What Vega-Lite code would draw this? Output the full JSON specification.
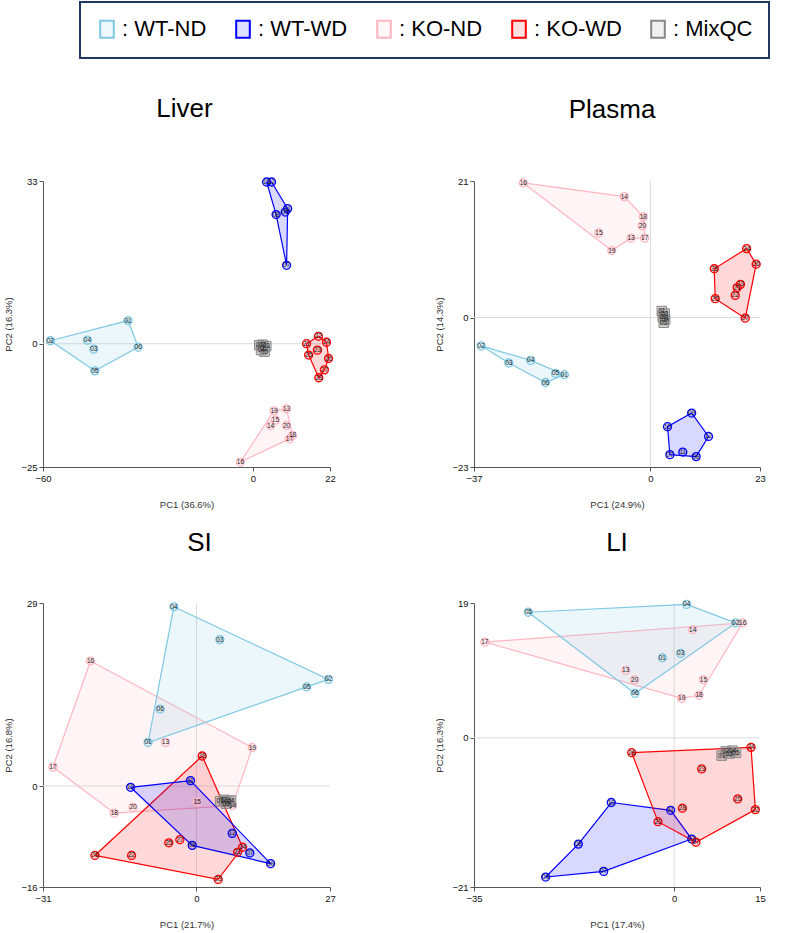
{
 "$schema": "https://vega.github.io/schema/vega-lite/v6.json",
 "background": "white",
 "padding": {"left": 3, "top": 1, "right": 5, "bottom": 5},
 "columns": 2,
 "spacing": {"row": 136, "column": 144},
 "bounds": "flush",
 "datasets": {
  "pts": [
   {"p":"Liver","g":"WT-ND","l":"01","x":-35.7,"y":4.7},
   {"p":"Liver","g":"WT-ND","l":"02","x":-57.9,"y":0.6},
   {"p":"Liver","g":"WT-ND","l":"03","x":-45.5,"y":-1.1},
   {"p":"Liver","g":"WT-ND","l":"04","x":-47.3,"y":0.7},
   {"p":"Liver","g":"WT-ND","l":"05","x":-45.2,"y":-5.5},
   {"p":"Liver","g":"WT-ND","l":"06","x":-32.8,"y":-0.7},
   {"p":"Liver","g":"WT-WD","l":"07","x":9.6,"y":15.9},
   {"p":"Liver","g":"WT-WD","l":"08","x":6.6,"y":26.2},
   {"p":"Liver","g":"WT-WD","l":"09","x":9.2,"y":26.7},
   {"p":"Liver","g":"WT-WD","l":"10","x":3.9,"y":32.8},
   {"p":"Liver","g":"WT-WD","l":"11","x":9.9,"y":27.4},
   {"p":"Liver","g":"WT-WD","l":"12","x":5.3,"y":32.8},
   {"p":"Liver","g":"KO-ND","l":"13","x":9.6,"y":-13.2},
   {"p":"Liver","g":"KO-ND","l":"14","x":5.0,"y":-16.6},
   {"p":"Liver","g":"KO-ND","l":"15","x":6.4,"y":-15.5},
   {"p":"Liver","g":"KO-ND","l":"16","x":-3.6,"y":-24.0},
   {"p":"Liver","g":"KO-ND","l":"17","x":10.4,"y":-19.3},
   {"p":"Liver","g":"KO-ND","l":"18","x":11.3,"y":-18.6},
   {"p":"Liver","g":"KO-ND","l":"19","x":6.0,"y":-13.6},
   {"p":"Liver","g":"KO-ND","l":"20","x":9.6,"y":-16.6},
   {"p":"Liver","g":"KO-WD","l":"21","x":15.3,"y":0.0},
   {"p":"Liver","g":"KO-WD","l":"22","x":18.7,"y":1.5},
   {"p":"Liver","g":"KO-WD","l":"23","x":18.4,"y":-1.3},
   {"p":"Liver","g":"KO-WD","l":"24","x":21.0,"y":0.3},
   {"p":"Liver","g":"KO-WD","l":"25","x":15.9,"y":-2.3},
   {"p":"Liver","g":"KO-WD","l":"26","x":21.6,"y":-3.0},
   {"p":"Liver","g":"KO-WD","l":"27","x":20.4,"y":-5.3},
   {"p":"Liver","g":"KO-WD","l":"28","x":18.8,"y":-6.9},
   {"p":"Liver","g":"MixQC","l":"01","x":1.8,"y":-0.3},
   {"p":"Liver","g":"MixQC","l":"02","x":2.8,"y":-0.2},
   {"p":"Liver","g":"MixQC","l":"03","x":3.8,"y":-0.5},
   {"p":"Liver","g":"MixQC","l":"04","x":2.3,"y":-1.3},
   {"p":"Liver","g":"MixQC","l":"05","x":3.3,"y":-1.6},

   {"p":"Plasma","g":"WT-ND","l":"01","x":-18.05,"y":-8.8},
   {"p":"Plasma","g":"WT-ND","l":"02","x":-35.5,"y":-4.36},
   {"p":"Plasma","g":"WT-ND","l":"03","x":-29.7,"y":-7.0},
   {"p":"Plasma","g":"WT-ND","l":"04","x":-25.1,"y":-6.6},
   {"p":"Plasma","g":"WT-ND","l":"05","x":-19.9,"y":-8.6},
   {"p":"Plasma","g":"WT-ND","l":"06","x":-22.0,"y":-10.0},
   {"p":"Plasma","g":"WT-WD","l":"07","x":4.1,"y":-21.1},
   {"p":"Plasma","g":"WT-WD","l":"08","x":9.6,"y":-21.4},
   {"p":"Plasma","g":"WT-WD","l":"09","x":8.66,"y":-14.7},
   {"p":"Plasma","g":"WT-WD","l":"10","x":3.6,"y":-16.8},
   {"p":"Plasma","g":"WT-WD","l":"11","x":6.8,"y":-20.7},
   {"p":"Plasma","g":"WT-WD","l":"12","x":12.2,"y":-18.3},
   {"p":"Plasma","g":"KO-ND","l":"13","x":-4.06,"y":12.2},
   {"p":"Plasma","g":"KO-ND","l":"14","x":-5.46,"y":18.6},
   {"p":"Plasma","g":"KO-ND","l":"15","x":-10.8,"y":13.0},
   {"p":"Plasma","g":"KO-ND","l":"16","x":-26.65,"y":20.7},
   {"p":"Plasma","g":"KO-ND","l":"17","x":-1.2,"y":12.2},
   {"p":"Plasma","g":"KO-ND","l":"18","x":-1.48,"y":15.5},
   {"p":"Plasma","g":"KO-ND","l":"19","x":-8.1,"y":10.3},
   {"p":"Plasma","g":"KO-ND","l":"20","x":-1.69,"y":14.1},
   {"p":"Plasma","g":"KO-WD","l":"21","x":18.2,"y":4.6},
   {"p":"Plasma","g":"KO-WD","l":"22","x":17.8,"y":3.4},
   {"p":"Plasma","g":"KO-WD","l":"23","x":18.9,"y":5.1},
   {"p":"Plasma","g":"KO-WD","l":"24","x":20.2,"y":10.6},
   {"p":"Plasma","g":"KO-WD","l":"25","x":13.6,"y":2.9},
   {"p":"Plasma","g":"KO-WD","l":"26","x":22.2,"y":8.2},
   {"p":"Plasma","g":"KO-WD","l":"27","x":19.9,"y":-0.1},
   {"p":"Plasma","g":"KO-WD","l":"28","x":13.4,"y":7.5},
   {"p":"Plasma","g":"MixQC","l":"01","x":2.4,"y":1.0},
   {"p":"Plasma","g":"MixQC","l":"02","x":3.0,"y":0.6},
   {"p":"Plasma","g":"MixQC","l":"03","x":2.6,"y":0.1},
   {"p":"Plasma","g":"MixQC","l":"04","x":3.1,"y":-0.3},
   {"p":"Plasma","g":"MixQC","l":"05","x":2.8,"y":-0.8},

   {"p":"SI","g":"WT-ND","l":"01","x":-9.76,"y":6.9},
   {"p":"SI","g":"WT-ND","l":"02","x":26.7,"y":16.9},
   {"p":"SI","g":"WT-ND","l":"03","x":4.74,"y":23.2},
   {"p":"SI","g":"WT-ND","l":"04","x":-4.56,"y":28.4},
   {"p":"SI","g":"WT-ND","l":"05","x":22.3,"y":15.7},
   {"p":"SI","g":"WT-ND","l":"06","x":-7.33,"y":12.2},
   {"p":"SI","g":"WT-WD","l":"07","x":10.8,"y":-10.6},
   {"p":"SI","g":"WT-WD","l":"08","x":-0.85,"y":-9.4},
   {"p":"SI","g":"WT-WD","l":"09","x":15.0,"y":-12.3},
   {"p":"SI","g":"WT-WD","l":"10","x":-13.3,"y":-0.2},
   {"p":"SI","g":"WT-WD","l":"11","x":-1.19,"y":0.86},
   {"p":"SI","g":"WT-WD","l":"12","x":7.24,"y":-7.5},
   {"p":"SI","g":"KO-ND","l":"13","x":-6.25,"y":6.9},
   {"p":"SI","g":"KO-ND","l":"14","x":7.3,"y":-3.1},
   {"p":"SI","g":"KO-ND","l":"15","x":0.16,"y":-2.5},
   {"p":"SI","g":"KO-ND","l":"16","x":-21.4,"y":19.8},
   {"p":"SI","g":"KO-ND","l":"17","x":-29.0,"y":3.0},
   {"p":"SI","g":"KO-ND","l":"18","x":-16.6,"y":-4.3},
   {"p":"SI","g":"KO-ND","l":"19","x":11.3,"y":6.1},
   {"p":"SI","g":"KO-ND","l":"20","x":-12.8,"y":-3.4},
   {"p":"SI","g":"KO-WD","l":"21","x":8.32,"y":-10.5},
   {"p":"SI","g":"KO-WD","l":"22","x":-13.1,"y":-11.0},
   {"p":"SI","g":"KO-WD","l":"23","x":4.4,"y":-14.8},
   {"p":"SI","g":"KO-WD","l":"24","x":9.33,"y":-9.7},
   {"p":"SI","g":"KO-WD","l":"25","x":-5.58,"y":-9.0},
   {"p":"SI","g":"KO-WD","l":"26","x":-20.5,"y":-11.0},
   {"p":"SI","g":"KO-WD","l":"27","x":-3.35,"y":-8.5},
   {"p":"SI","g":"KO-WD","l":"28","x":1.17,"y":4.76},
   {"p":"SI","g":"MixQC","l":"01","x":4.8,"y":-2.4},
   {"p":"SI","g":"MixQC","l":"02","x":5.6,"y":-2.2},
   {"p":"SI","g":"MixQC","l":"03","x":6.3,"y":-2.5},
   {"p":"SI","g":"MixQC","l":"04","x":7.0,"y":-2.3},
   {"p":"SI","g":"MixQC","l":"05","x":6.0,"y":-2.8},

   {"p":"LI","g":"WT-ND","l":"01","x":-2.07,"y":11.3},
   {"p":"LI","g":"WT-ND","l":"02","x":10.75,"y":16.2},
   {"p":"LI","g":"WT-ND","l":"03","x":1.13,"y":11.9},
   {"p":"LI","g":"WT-ND","l":"04","x":2.18,"y":18.8},
   {"p":"LI","g":"WT-ND","l":"05","x":-25.5,"y":17.7},
   {"p":"LI","g":"WT-ND","l":"06","x":-6.85,"y":6.26},
   {"p":"LI","g":"WT-WD","l":"07","x":-12.33,"y":-18.8},
   {"p":"LI","g":"WT-WD","l":"08","x":-16.76,"y":-14.96},
   {"p":"LI","g":"WT-WD","l":"09","x":-22.47,"y":-19.6},
   {"p":"LI","g":"WT-WD","l":"10","x":-11.0,"y":-9.1},
   {"p":"LI","g":"WT-WD","l":"11","x":-0.61,"y":-10.2},
   {"p":"LI","g":"WT-WD","l":"12","x":3.06,"y":-14.25},
   {"p":"LI","g":"KO-ND","l":"13","x":-8.48,"y":9.5},
   {"p":"LI","g":"KO-ND","l":"14","x":3.23,"y":15.25},
   {"p":"LI","g":"KO-ND","l":"15","x":5.1,"y":8.2},
   {"p":"LI","g":"KO-ND","l":"16","x":11.97,"y":16.2},
   {"p":"LI","g":"KO-ND","l":"17","x":-33.1,"y":13.5},
   {"p":"LI","g":"KO-ND","l":"18","x":4.34,"y":6.0},
   {"p":"LI","g":"KO-ND","l":"19","x":1.3,"y":5.56},
   {"p":"LI","g":"KO-ND","l":"20","x":-6.9,"y":8.2},
   {"p":"LI","g":"KO-WD","l":"21","x":-2.83,"y":-11.8},
   {"p":"LI","g":"KO-WD","l":"22","x":14.19,"y":-10.1},
   {"p":"LI","g":"KO-WD","l":"23","x":4.8,"y":-4.37},
   {"p":"LI","g":"KO-WD","l":"24","x":13.43,"y":-1.33},
   {"p":"LI","g":"KO-WD","l":"25","x":11.1,"y":-8.6},
   {"p":"LI","g":"KO-WD","l":"26","x":-7.43,"y":-2.08},
   {"p":"LI","g":"KO-WD","l":"27","x":3.8,"y":-14.7},
   {"p":"LI","g":"KO-WD","l":"28","x":1.43,"y":-9.9},
   {"p":"LI","g":"MixQC","l":"01","x":8.3,"y":-2.5},
   {"p":"LI","g":"MixQC","l":"02","x":9.0,"y":-1.9},
   {"p":"LI","g":"MixQC","l":"03","x":9.6,"y":-2.2},
   {"p":"LI","g":"MixQC","l":"04","x":10.2,"y":-1.8},
   {"p":"LI","g":"MixQC","l":"05","x":10.8,"y":-2.1}
  ],
  "hull": [
   {"p":"Liver","g":"WT-ND","o":1,"x":-57.9,"y":0.6},
   {"p":"Liver","g":"WT-ND","o":2,"x":-35.7,"y":4.7},
   {"p":"Liver","g":"WT-ND","o":3,"x":-32.8,"y":-0.7},
   {"p":"Liver","g":"WT-ND","o":4,"x":-45.2,"y":-5.5},
   {"p":"Liver","g":"WT-ND","o":5,"x":-57.9,"y":0.6},
   {"p":"Liver","g":"WT-WD","o":1,"x":3.9,"y":32.8},
   {"p":"Liver","g":"WT-WD","o":2,"x":5.3,"y":32.8},
   {"p":"Liver","g":"WT-WD","o":3,"x":9.9,"y":27.4},
   {"p":"Liver","g":"WT-WD","o":4,"x":9.6,"y":15.9},
   {"p":"Liver","g":"WT-WD","o":5,"x":6.6,"y":26.2},
   {"p":"Liver","g":"WT-WD","o":6,"x":3.9,"y":32.8},
   {"p":"Liver","g":"KO-ND","o":1,"x":-3.6,"y":-24.0},
   {"p":"Liver","g":"KO-ND","o":2,"x":6.0,"y":-13.6},
   {"p":"Liver","g":"KO-ND","o":3,"x":9.6,"y":-13.2},
   {"p":"Liver","g":"KO-ND","o":4,"x":11.3,"y":-18.6},
   {"p":"Liver","g":"KO-ND","o":5,"x":10.4,"y":-19.3},
   {"p":"Liver","g":"KO-ND","o":6,"x":-3.6,"y":-24.0},
   {"p":"Liver","g":"KO-WD","o":1,"x":15.3,"y":0.0},
   {"p":"Liver","g":"KO-WD","o":2,"x":18.7,"y":1.5},
   {"p":"Liver","g":"KO-WD","o":3,"x":21.0,"y":0.3},
   {"p":"Liver","g":"KO-WD","o":4,"x":21.6,"y":-3.0},
   {"p":"Liver","g":"KO-WD","o":5,"x":20.4,"y":-5.3},
   {"p":"Liver","g":"KO-WD","o":6,"x":18.8,"y":-6.9},
   {"p":"Liver","g":"KO-WD","o":7,"x":15.9,"y":-2.3},
   {"p":"Liver","g":"KO-WD","o":8,"x":15.3,"y":0.0},

   {"p":"Plasma","g":"KO-ND","o":1,"x":-26.65,"y":20.7},
   {"p":"Plasma","g":"KO-ND","o":2,"x":-5.46,"y":18.6},
   {"p":"Plasma","g":"KO-ND","o":3,"x":-1.48,"y":15.5},
   {"p":"Plasma","g":"KO-ND","o":4,"x":-1.2,"y":12.2},
   {"p":"Plasma","g":"KO-ND","o":5,"x":-4.06,"y":12.2},
   {"p":"Plasma","g":"KO-ND","o":6,"x":-8.1,"y":10.3},
   {"p":"Plasma","g":"KO-ND","o":7,"x":-26.65,"y":20.7},
   {"p":"Plasma","g":"KO-WD","o":1,"x":20.2,"y":10.6},
   {"p":"Plasma","g":"KO-WD","o":2,"x":22.2,"y":8.2},
   {"p":"Plasma","g":"KO-WD","o":3,"x":19.9,"y":-0.1},
   {"p":"Plasma","g":"KO-WD","o":4,"x":13.6,"y":2.9},
   {"p":"Plasma","g":"KO-WD","o":5,"x":13.4,"y":7.5},
   {"p":"Plasma","g":"KO-WD","o":6,"x":20.2,"y":10.6},
   {"p":"Plasma","g":"WT-ND","o":1,"x":-35.5,"y":-4.36},
   {"p":"Plasma","g":"WT-ND","o":2,"x":-25.1,"y":-6.6},
   {"p":"Plasma","g":"WT-ND","o":3,"x":-18.05,"y":-8.8},
   {"p":"Plasma","g":"WT-ND","o":4,"x":-22.0,"y":-10.0},
   {"p":"Plasma","g":"WT-ND","o":5,"x":-29.7,"y":-7.0},
   {"p":"Plasma","g":"WT-ND","o":6,"x":-35.5,"y":-4.36},
   {"p":"Plasma","g":"WT-WD","o":1,"x":8.66,"y":-14.7},
   {"p":"Plasma","g":"WT-WD","o":2,"x":12.2,"y":-18.3},
   {"p":"Plasma","g":"WT-WD","o":3,"x":9.6,"y":-21.4},
   {"p":"Plasma","g":"WT-WD","o":4,"x":4.1,"y":-21.1},
   {"p":"Plasma","g":"WT-WD","o":5,"x":3.6,"y":-16.8},
   {"p":"Plasma","g":"WT-WD","o":6,"x":8.66,"y":-14.7},

   {"p":"SI","g":"KO-ND","o":1,"x":-21.4,"y":19.8},
   {"p":"SI","g":"KO-ND","o":2,"x":11.3,"y":6.1},
   {"p":"SI","g":"KO-ND","o":3,"x":7.3,"y":-3.1},
   {"p":"SI","g":"KO-ND","o":4,"x":-16.6,"y":-4.3},
   {"p":"SI","g":"KO-ND","o":5,"x":-29.0,"y":3.0},
   {"p":"SI","g":"KO-ND","o":6,"x":-21.4,"y":19.8},
   {"p":"SI","g":"WT-ND","o":1,"x":-4.56,"y":28.4},
   {"p":"SI","g":"WT-ND","o":2,"x":26.7,"y":16.9},
   {"p":"SI","g":"WT-ND","o":3,"x":22.3,"y":15.7},
   {"p":"SI","g":"WT-ND","o":4,"x":-9.76,"y":6.9},
   {"p":"SI","g":"WT-ND","o":5,"x":-4.56,"y":28.4},
   {"p":"SI","g":"KO-WD","o":1,"x":1.17,"y":4.76},
   {"p":"SI","g":"KO-WD","o":2,"x":9.33,"y":-9.7},
   {"p":"SI","g":"KO-WD","o":3,"x":4.4,"y":-14.8},
   {"p":"SI","g":"KO-WD","o":4,"x":-20.5,"y":-11.0},
   {"p":"SI","g":"KO-WD","o":5,"x":1.17,"y":4.76},
   {"p":"SI","g":"WT-WD","o":1,"x":-13.3,"y":-0.2},
   {"p":"SI","g":"WT-WD","o":2,"x":-1.19,"y":0.86},
   {"p":"SI","g":"WT-WD","o":3,"x":15.0,"y":-12.3},
   {"p":"SI","g":"WT-WD","o":4,"x":-0.85,"y":-9.4},
   {"p":"SI","g":"WT-WD","o":5,"x":-13.3,"y":-0.2},

   {"p":"LI","g":"KO-ND","o":1,"x":-33.1,"y":13.5},
   {"p":"LI","g":"KO-ND","o":2,"x":11.97,"y":16.2},
   {"p":"LI","g":"KO-ND","o":3,"x":4.34,"y":6.0},
   {"p":"LI","g":"KO-ND","o":4,"x":1.3,"y":5.56},
   {"p":"LI","g":"KO-ND","o":5,"x":-33.1,"y":13.5},
   {"p":"LI","g":"WT-ND","o":1,"x":-25.5,"y":17.7},
   {"p":"LI","g":"WT-ND","o":2,"x":2.18,"y":18.8},
   {"p":"LI","g":"WT-ND","o":3,"x":10.75,"y":16.2},
   {"p":"LI","g":"WT-ND","o":4,"x":-6.85,"y":6.26},
   {"p":"LI","g":"WT-ND","o":5,"x":-25.5,"y":17.7},
   {"p":"LI","g":"WT-WD","o":1,"x":-11.0,"y":-9.1},
   {"p":"LI","g":"WT-WD","o":2,"x":-0.61,"y":-10.2},
   {"p":"LI","g":"WT-WD","o":3,"x":3.06,"y":-14.25},
   {"p":"LI","g":"WT-WD","o":4,"x":-12.33,"y":-18.8},
   {"p":"LI","g":"WT-WD","o":5,"x":-22.47,"y":-19.6},
   {"p":"LI","g":"WT-WD","o":6,"x":-16.76,"y":-14.96},
   {"p":"LI","g":"WT-WD","o":7,"x":-11.0,"y":-9.1},
   {"p":"LI","g":"KO-WD","o":1,"x":-7.43,"y":-2.08},
   {"p":"LI","g":"KO-WD","o":2,"x":13.43,"y":-1.33},
   {"p":"LI","g":"KO-WD","o":3,"x":14.19,"y":-10.1},
   {"p":"LI","g":"KO-WD","o":4,"x":3.8,"y":-14.7},
   {"p":"LI","g":"KO-WD","o":5,"x":-2.83,"y":-11.8},
   {"p":"LI","g":"KO-WD","o":6,"x":-7.43,"y":-2.08}
  ]
 },
 "concat": [
  {
   "width": 287, "height": 286,
   "title": {"text": "Liver", "offset": 53, "dx": -2},
   "layer": [
    {"data": {"values": [{"x": 0, "y": 0}]}, "mark": {"type": "rule", "color": "#dcdcdc", "strokeWidth": 1},
     "encoding": {"y": {"field": "y", "type": "quantitative", "scale": {"domain": [-25, 33], "nice": false, "zero": false}, "axis": {"values": [-25, 0, 33], "title": "PC2 (16.3%)"}}}},
    {"data": {"name": "hull"}, "transform": [{"filter": "datum.p == 'Liver'"}],
     "mark": {"type": "line", "strokeWidth": 1.2, "fillOpacity": 0.15},
     "encoding": {
      "x": {"field": "x", "type": "quantitative", "scale": {"domain": [-60, 22], "nice": false, "zero": false}, "axis": {"values": [-60, 0, 22], "title": "PC1 (36.6%)"}},
      "y": {"field": "y", "type": "quantitative", "scale": {"domain": [-25, 33], "nice": false, "zero": false}, "axis": {"values": [-25, 0, 33], "title": "PC2 (16.3%)"}},
      "order": {"field": "o", "type": "quantitative"},
      "stroke": {"field": "g", "type": "nominal", "scale": {"domain": ["WT-ND", "WT-WD", "KO-ND", "KO-WD", "MixQC"], "range": ["#7ec8e3", "#0000ff", "#ffb6c1", "#ff0000", "#888888"]}, "legend": {"title": null, "symbolType": "M-0.8,-1L0.8,-1L0.8,1L-0.8,1Z", "labelExpr": "': ' + datum.label", "encode": {"symbols": {"update": {"fillOpacity": {"value": 0.12}, "strokeOpacity": {"value": 1}, "opacity": {"value": 1}}}, "legend": {"update": {"strokeWidth": {"value": 2}}}}}},
      "fill": {"field": "g", "type": "nominal", "scale": {"domain": ["WT-ND", "WT-WD", "KO-ND", "KO-WD", "MixQC"], "range": ["#7ec8e3", "#0000ff", "#ffb6c1", "#ff0000", "#888888"]}, "legend": {"title": null, "symbolType": "M-0.8,-1L0.8,-1L0.8,1L-0.8,1Z", "labelExpr": "': ' + datum.label", "encode": {"symbols": {"update": {"fillOpacity": {"value": 0.12}, "strokeOpacity": {"value": 1}, "opacity": {"value": 1}}}, "legend": {"update": {"strokeWidth": {"value": 2}}}}}}
     }},
    {"data": {"name": "pts"}, "transform": [{"filter": "datum.p == 'Liver' && datum.g != 'MixQC'"}],
     "mark": {"type": "point", "shape": "circle", "size": 64, "strokeWidth": 1.3, "fillOpacity": 0.2, "opacity": 1},
     "encoding": {
      "x": {"field": "x", "type": "quantitative", "scale": {"domain": [-60, 22], "nice": false, "zero": false}, "axis": {"values": [-60, 0, 22], "title": "PC1 (36.6%)"}},
      "y": {"field": "y", "type": "quantitative", "scale": {"domain": [-25, 33], "nice": false, "zero": false}, "axis": {"values": [-25, 0, 33], "title": "PC2 (16.3%)"}},
      "stroke": {"field": "g", "type": "nominal", "scale": {"domain": ["WT-ND", "WT-WD", "KO-ND", "KO-WD", "MixQC"], "range": ["#7ec8e3", "#0000ff", "#ffb6c1", "#ff0000", "#888888"]}, "legend": {"title": null, "symbolType": "M-0.8,-1L0.8,-1L0.8,1L-0.8,1Z", "labelExpr": "': ' + datum.label", "encode": {"symbols": {"update": {"fillOpacity": {"value": 0.12}, "strokeOpacity": {"value": 1}, "opacity": {"value": 1}}}, "legend": {"update": {"strokeWidth": {"value": 2}}}}}},
      "fill": {"field": "g", "type": "nominal", "scale": {"domain": ["WT-ND", "WT-WD", "KO-ND", "KO-WD", "MixQC"], "range": ["#7ec8e3", "#0000ff", "#ffb6c1", "#ff0000", "#888888"]}, "legend": {"title": null, "symbolType": "M-0.8,-1L0.8,-1L0.8,1L-0.8,1Z", "labelExpr": "': ' + datum.label", "encode": {"symbols": {"update": {"fillOpacity": {"value": 0.12}, "strokeOpacity": {"value": 1}, "opacity": {"value": 1}}}, "legend": {"update": {"strokeWidth": {"value": 2}}}}}}
     }},
    {"data": {"name": "pts"}, "transform": [{"filter": "datum.p == 'Liver' && datum.g == 'MixQC'"}],
     "mark": {"type": "point", "shape": "square", "size": 90, "strokeWidth": 1, "fillOpacity": 0.4, "opacity": 1},
     "encoding": {
      "x": {"field": "x", "type": "quantitative", "scale": {"domain": [-60, 22], "nice": false, "zero": false}, "axis": {"values": [-60, 0, 22], "title": "PC1 (36.6%)"}},
      "y": {"field": "y", "type": "quantitative", "scale": {"domain": [-25, 33], "nice": false, "zero": false}, "axis": {"values": [-25, 0, 33], "title": "PC2 (16.3%)"}},
      "stroke": {"field": "g", "type": "nominal", "scale": {"domain": ["WT-ND", "WT-WD", "KO-ND", "KO-WD", "MixQC"], "range": ["#7ec8e3", "#0000ff", "#ffb6c1", "#ff0000", "#888888"]}, "legend": {"title": null, "symbolType": "M-0.8,-1L0.8,-1L0.8,1L-0.8,1Z", "labelExpr": "': ' + datum.label", "encode": {"symbols": {"update": {"fillOpacity": {"value": 0.12}, "strokeOpacity": {"value": 1}, "opacity": {"value": 1}}}, "legend": {"update": {"strokeWidth": {"value": 2}}}}}},
      "fill": {"field": "g", "type": "nominal", "scale": {"domain": ["WT-ND", "WT-WD", "KO-ND", "KO-WD", "MixQC"], "range": ["#7ec8e3", "#0000ff", "#ffb6c1", "#ff0000", "#888888"]}, "legend": {"title": null, "symbolType": "M-0.8,-1L0.8,-1L0.8,1L-0.8,1Z", "labelExpr": "': ' + datum.label", "encode": {"symbols": {"update": {"fillOpacity": {"value": 0.12}, "strokeOpacity": {"value": 1}, "opacity": {"value": 1}}}, "legend": {"update": {"strokeWidth": {"value": 2}}}}}}
     }},
    {"data": {"name": "pts"}, "transform": [{"filter": "datum.p == 'Liver'"}],
     "mark": {"type": "text", "fontSize": 6.5, "font": "Liberation Sans", "color": "#222222", "baseline": "middle", "align": "center"},
     "encoding": {
      "x": {"field": "x", "type": "quantitative", "scale": {"domain": [-60, 22], "nice": false, "zero": false}, "axis": {"values": [-60, 0, 22], "title": "PC1 (36.6%)"}},
      "y": {"field": "y", "type": "quantitative", "scale": {"domain": [-25, 33], "nice": false, "zero": false}, "axis": {"values": [-25, 0, 33], "title": "PC2 (16.3%)"}},
      "text": {"field": "l", "type": "nominal"}
     }}
   ]
  },
  {
   "width": 286, "height": 286,
   "title": {"text": "Plasma", "offset": 53, "dx": -5},
   "layer": [
    {"data": {"values": [{"x": 0, "y": 0}]}, "mark": {"type": "rule", "color": "#dcdcdc", "strokeWidth": 1},
     "encoding": {"y": {"field": "y", "type": "quantitative", "scale": {"domain": [-23, 21], "nice": false, "zero": false}, "axis": {"values": [-23, 0, 21], "title": "PC2 (14.3%)"}}}},
    {"data": {"values": [{"x": 0, "y": 0}]}, "mark": {"type": "rule", "color": "#dcdcdc", "strokeWidth": 1},
     "encoding": {"x": {"field": "x", "type": "quantitative", "scale": {"domain": [-37, 23], "nice": false, "zero": false}, "axis": {"values": [-37, 0, 23], "title": "PC1 (24.9%)"}}}},
    {"data": {"name": "hull"}, "transform": [{"filter": "datum.p == 'Plasma'"}],
     "mark": {"type": "line", "strokeWidth": 1.2, "fillOpacity": 0.15},
     "encoding": {
      "x": {"field": "x", "type": "quantitative", "scale": {"domain": [-37, 23], "nice": false, "zero": false}, "axis": {"values": [-37, 0, 23], "title": "PC1 (24.9%)"}},
      "y": {"field": "y", "type": "quantitative", "scale": {"domain": [-23, 21], "nice": false, "zero": false}, "axis": {"values": [-23, 0, 21], "title": "PC2 (14.3%)"}},
      "order": {"field": "o", "type": "quantitative"},
      "stroke": {"field": "g", "type": "nominal", "scale": {"domain": ["WT-ND", "WT-WD", "KO-ND", "KO-WD", "MixQC"], "range": ["#7ec8e3", "#0000ff", "#ffb6c1", "#ff0000", "#888888"]}, "legend": {"title": null, "symbolType": "M-0.8,-1L0.8,-1L0.8,1L-0.8,1Z", "labelExpr": "': ' + datum.label", "encode": {"symbols": {"update": {"fillOpacity": {"value": 0.12}, "strokeOpacity": {"value": 1}, "opacity": {"value": 1}}}, "legend": {"update": {"strokeWidth": {"value": 2}}}}}},
      "fill": {"field": "g", "type": "nominal", "scale": {"domain": ["WT-ND", "WT-WD", "KO-ND", "KO-WD", "MixQC"], "range": ["#7ec8e3", "#0000ff", "#ffb6c1", "#ff0000", "#888888"]}, "legend": {"title": null, "symbolType": "M-0.8,-1L0.8,-1L0.8,1L-0.8,1Z", "labelExpr": "': ' + datum.label", "encode": {"symbols": {"update": {"fillOpacity": {"value": 0.12}, "strokeOpacity": {"value": 1}, "opacity": {"value": 1}}}, "legend": {"update": {"strokeWidth": {"value": 2}}}}}}
     }},
    {"data": {"name": "pts"}, "transform": [{"filter": "datum.p == 'Plasma' && datum.g != 'MixQC'"}],
     "mark": {"type": "point", "shape": "circle", "size": 64, "strokeWidth": 1.3, "fillOpacity": 0.2, "opacity": 1},
     "encoding": {
      "x": {"field": "x", "type": "quantitative", "scale": {"domain": [-37, 23], "nice": false, "zero": false}, "axis": {"values": [-37, 0, 23], "title": "PC1 (24.9%)"}},
      "y": {"field": "y", "type": "quantitative", "scale": {"domain": [-23, 21], "nice": false, "zero": false}, "axis": {"values": [-23, 0, 21], "title": "PC2 (14.3%)"}},
      "stroke": {"field": "g", "type": "nominal", "scale": {"domain": ["WT-ND", "WT-WD", "KO-ND", "KO-WD", "MixQC"], "range": ["#7ec8e3", "#0000ff", "#ffb6c1", "#ff0000", "#888888"]}, "legend": {"title": null, "symbolType": "M-0.8,-1L0.8,-1L0.8,1L-0.8,1Z", "labelExpr": "': ' + datum.label", "encode": {"symbols": {"update": {"fillOpacity": {"value": 0.12}, "strokeOpacity": {"value": 1}, "opacity": {"value": 1}}}, "legend": {"update": {"strokeWidth": {"value": 2}}}}}},
      "fill": {"field": "g", "type": "nominal", "scale": {"domain": ["WT-ND", "WT-WD", "KO-ND", "KO-WD", "MixQC"], "range": ["#7ec8e3", "#0000ff", "#ffb6c1", "#ff0000", "#888888"]}, "legend": {"title": null, "symbolType": "M-0.8,-1L0.8,-1L0.8,1L-0.8,1Z", "labelExpr": "': ' + datum.label", "encode": {"symbols": {"update": {"fillOpacity": {"value": 0.12}, "strokeOpacity": {"value": 1}, "opacity": {"value": 1}}}, "legend": {"update": {"strokeWidth": {"value": 2}}}}}}
     }},
    {"data": {"name": "pts"}, "transform": [{"filter": "datum.p == 'Plasma' && datum.g == 'MixQC'"}],
     "mark": {"type": "point", "shape": "square", "size": 90, "strokeWidth": 1, "fillOpacity": 0.4, "opacity": 1},
     "encoding": {
      "x": {"field": "x", "type": "quantitative", "scale": {"domain": [-37, 23], "nice": false, "zero": false}, "axis": {"values": [-37, 0, 23], "title": "PC1 (24.9%)"}},
      "y": {"field": "y", "type": "quantitative", "scale": {"domain": [-23, 21], "nice": false, "zero": false}, "axis": {"values": [-23, 0, 21], "title": "PC2 (14.3%)"}},
      "stroke": {"field": "g", "type": "nominal", "scale": {"domain": ["WT-ND", "WT-WD", "KO-ND", "KO-WD", "MixQC"], "range": ["#7ec8e3", "#0000ff", "#ffb6c1", "#ff0000", "#888888"]}, "legend": {"title": null, "symbolType": "M-0.8,-1L0.8,-1L0.8,1L-0.8,1Z", "labelExpr": "': ' + datum.label", "encode": {"symbols": {"update": {"fillOpacity": {"value": 0.12}, "strokeOpacity": {"value": 1}, "opacity": {"value": 1}}}, "legend": {"update": {"strokeWidth": {"value": 2}}}}}},
      "fill": {"field": "g", "type": "nominal", "scale": {"domain": ["WT-ND", "WT-WD", "KO-ND", "KO-WD", "MixQC"], "range": ["#7ec8e3", "#0000ff", "#ffb6c1", "#ff0000", "#888888"]}, "legend": {"title": null, "symbolType": "M-0.8,-1L0.8,-1L0.8,1L-0.8,1Z", "labelExpr": "': ' + datum.label", "encode": {"symbols": {"update": {"fillOpacity": {"value": 0.12}, "strokeOpacity": {"value": 1}, "opacity": {"value": 1}}}, "legend": {"update": {"strokeWidth": {"value": 2}}}}}}
     }},
    {"data": {"name": "pts"}, "transform": [{"filter": "datum.p == 'Plasma'"}],
     "mark": {"type": "text", "fontSize": 6.5, "font": "Liberation Sans", "color": "#222222", "baseline": "middle", "align": "center"},
     "encoding": {
      "x": {"field": "x", "type": "quantitative", "scale": {"domain": [-37, 23], "nice": false, "zero": false}, "axis": {"values": [-37, 0, 23], "title": "PC1 (24.9%)"}},
      "y": {"field": "y", "type": "quantitative", "scale": {"domain": [-23, 21], "nice": false, "zero": false}, "axis": {"values": [-23, 0, 21], "title": "PC2 (14.3%)"}},
      "text": {"field": "l", "type": "nominal"}
     }}
   ]
  },
  {
   "width": 287, "height": 284,
   "title": {"text": "SI", "offset": 42, "dx": 13},
   "layer": [
    {"data": {"values": [{"x": 0, "y": 0}]}, "mark": {"type": "rule", "color": "#dcdcdc", "strokeWidth": 1},
     "encoding": {"y": {"field": "y", "type": "quantitative", "scale": {"domain": [-16, 29], "nice": false, "zero": false}, "axis": {"values": [-16, 0, 29], "title": "PC2 (16.8%)"}}}},
    {"data": {"values": [{"x": 0, "y": 0}]}, "mark": {"type": "rule", "color": "#dcdcdc", "strokeWidth": 1},
     "encoding": {"x": {"field": "x", "type": "quantitative", "scale": {"domain": [-31, 27], "nice": false, "zero": false}, "axis": {"values": [-31, 0, 27], "title": "PC1 (21.7%)"}}}},
    {"data": {"name": "hull"}, "transform": [{"filter": "datum.p == 'SI'"}],
     "mark": {"type": "line", "strokeWidth": 1.2, "fillOpacity": 0.15},
     "encoding": {
      "x": {"field": "x", "type": "quantitative", "scale": {"domain": [-31, 27], "nice": false, "zero": false}, "axis": {"values": [-31, 0, 27], "title": "PC1 (21.7%)"}},
      "y": {"field": "y", "type": "quantitative", "scale": {"domain": [-16, 29], "nice": false, "zero": false}, "axis": {"values": [-16, 0, 29], "title": "PC2 (16.8%)"}},
      "order": {"field": "o", "type": "quantitative"},
      "stroke": {"field": "g", "type": "nominal", "scale": {"domain": ["WT-ND", "WT-WD", "KO-ND", "KO-WD", "MixQC"], "range": ["#7ec8e3", "#0000ff", "#ffb6c1", "#ff0000", "#888888"]}, "legend": {"title": null, "symbolType": "M-0.8,-1L0.8,-1L0.8,1L-0.8,1Z", "labelExpr": "': ' + datum.label", "encode": {"symbols": {"update": {"fillOpacity": {"value": 0.12}, "strokeOpacity": {"value": 1}, "opacity": {"value": 1}}}, "legend": {"update": {"strokeWidth": {"value": 2}}}}}},
      "fill": {"field": "g", "type": "nominal", "scale": {"domain": ["WT-ND", "WT-WD", "KO-ND", "KO-WD", "MixQC"], "range": ["#7ec8e3", "#0000ff", "#ffb6c1", "#ff0000", "#888888"]}, "legend": {"title": null, "symbolType": "M-0.8,-1L0.8,-1L0.8,1L-0.8,1Z", "labelExpr": "': ' + datum.label", "encode": {"symbols": {"update": {"fillOpacity": {"value": 0.12}, "strokeOpacity": {"value": 1}, "opacity": {"value": 1}}}, "legend": {"update": {"strokeWidth": {"value": 2}}}}}}
     }},
    {"data": {"name": "pts"}, "transform": [{"filter": "datum.p == 'SI' && datum.g != 'MixQC'"}],
     "mark": {"type": "point", "shape": "circle", "size": 64, "strokeWidth": 1.3, "fillOpacity": 0.2, "opacity": 1},
     "encoding": {
      "x": {"field": "x", "type": "quantitative", "scale": {"domain": [-31, 27], "nice": false, "zero": false}, "axis": {"values": [-31, 0, 27], "title": "PC1 (21.7%)"}},
      "y": {"field": "y", "type": "quantitative", "scale": {"domain": [-16, 29], "nice": false, "zero": false}, "axis": {"values": [-16, 0, 29], "title": "PC2 (16.8%)"}},
      "stroke": {"field": "g", "type": "nominal", "scale": {"domain": ["WT-ND", "WT-WD", "KO-ND", "KO-WD", "MixQC"], "range": ["#7ec8e3", "#0000ff", "#ffb6c1", "#ff0000", "#888888"]}, "legend": {"title": null, "symbolType": "M-0.8,-1L0.8,-1L0.8,1L-0.8,1Z", "labelExpr": "': ' + datum.label", "encode": {"symbols": {"update": {"fillOpacity": {"value": 0.12}, "strokeOpacity": {"value": 1}, "opacity": {"value": 1}}}, "legend": {"update": {"strokeWidth": {"value": 2}}}}}},
      "fill": {"field": "g", "type": "nominal", "scale": {"domain": ["WT-ND", "WT-WD", "KO-ND", "KO-WD", "MixQC"], "range": ["#7ec8e3", "#0000ff", "#ffb6c1", "#ff0000", "#888888"]}, "legend": {"title": null, "symbolType": "M-0.8,-1L0.8,-1L0.8,1L-0.8,1Z", "labelExpr": "': ' + datum.label", "encode": {"symbols": {"update": {"fillOpacity": {"value": 0.12}, "strokeOpacity": {"value": 1}, "opacity": {"value": 1}}}, "legend": {"update": {"strokeWidth": {"value": 2}}}}}}
     }},
    {"data": {"name": "pts"}, "transform": [{"filter": "datum.p == 'SI' && datum.g == 'MixQC'"}],
     "mark": {"type": "point", "shape": "square", "size": 90, "strokeWidth": 1, "fillOpacity": 0.4, "opacity": 1},
     "encoding": {
      "x": {"field": "x", "type": "quantitative", "scale": {"domain": [-31, 27], "nice": false, "zero": false}, "axis": {"values": [-31, 0, 27], "title": "PC1 (21.7%)"}},
      "y": {"field": "y", "type": "quantitative", "scale": {"domain": [-16, 29], "nice": false, "zero": false}, "axis": {"values": [-16, 0, 29], "title": "PC2 (16.8%)"}},
      "stroke": {"field": "g", "type": "nominal", "scale": {"domain": ["WT-ND", "WT-WD", "KO-ND", "KO-WD", "MixQC"], "range": ["#7ec8e3", "#0000ff", "#ffb6c1", "#ff0000", "#888888"]}, "legend": {"title": null, "symbolType": "M-0.8,-1L0.8,-1L0.8,1L-0.8,1Z", "labelExpr": "': ' + datum.label", "encode": {"symbols": {"update": {"fillOpacity": {"value": 0.12}, "strokeOpacity": {"value": 1}, "opacity": {"value": 1}}}, "legend": {"update": {"strokeWidth": {"value": 2}}}}}},
      "fill": {"field": "g", "type": "nominal", "scale": {"domain": ["WT-ND", "WT-WD", "KO-ND", "KO-WD", "MixQC"], "range": ["#7ec8e3", "#0000ff", "#ffb6c1", "#ff0000", "#888888"]}, "legend": {"title": null, "symbolType": "M-0.8,-1L0.8,-1L0.8,1L-0.8,1Z", "labelExpr": "': ' + datum.label", "encode": {"symbols": {"update": {"fillOpacity": {"value": 0.12}, "strokeOpacity": {"value": 1}, "opacity": {"value": 1}}}, "legend": {"update": {"strokeWidth": {"value": 2}}}}}}
     }},
    {"data": {"name": "pts"}, "transform": [{"filter": "datum.p == 'SI'"}],
     "mark": {"type": "text", "fontSize": 6.5, "font": "Liberation Sans", "color": "#222222", "baseline": "middle", "align": "center"},
     "encoding": {
      "x": {"field": "x", "type": "quantitative", "scale": {"domain": [-31, 27], "nice": false, "zero": false}, "axis": {"values": [-31, 0, 27], "title": "PC1 (21.7%)"}},
      "y": {"field": "y", "type": "quantitative", "scale": {"domain": [-16, 29], "nice": false, "zero": false}, "axis": {"values": [-16, 0, 29], "title": "PC2 (16.8%)"}},
      "text": {"field": "l", "type": "nominal"}
     }}
   ]
  },
  {
   "width": 286, "height": 284,
   "title": {"text": "LI", "offset": 42, "dx": 0},
   "layer": [
    {"data": {"values": [{"x": 0, "y": 0}]}, "mark": {"type": "rule", "color": "#dcdcdc", "strokeWidth": 1},
     "encoding": {"y": {"field": "y", "type": "quantitative", "scale": {"domain": [-21, 19], "nice": false, "zero": false}, "axis": {"values": [-21, 0, 19], "title": "PC2 (16.3%)"}}}},
    {"data": {"values": [{"x": 0, "y": 0}]}, "mark": {"type": "rule", "color": "#dcdcdc", "strokeWidth": 1},
     "encoding": {"x": {"field": "x", "type": "quantitative", "scale": {"domain": [-35, 15], "nice": false, "zero": false}, "axis": {"values": [-35, 0, 15], "title": "PC1 (17.4%)"}}}},
    {"data": {"name": "hull"}, "transform": [{"filter": "datum.p == 'LI'"}],
     "mark": {"type": "line", "strokeWidth": 1.2, "fillOpacity": 0.15},
     "encoding": {
      "x": {"field": "x", "type": "quantitative", "scale": {"domain": [-35, 15], "nice": false, "zero": false}, "axis": {"values": [-35, 0, 15], "title": "PC1 (17.4%)"}},
      "y": {"field": "y", "type": "quantitative", "scale": {"domain": [-21, 19], "nice": false, "zero": false}, "axis": {"values": [-21, 0, 19], "title": "PC2 (16.3%)"}},
      "order": {"field": "o", "type": "quantitative"},
      "stroke": {"field": "g", "type": "nominal", "scale": {"domain": ["WT-ND", "WT-WD", "KO-ND", "KO-WD", "MixQC"], "range": ["#7ec8e3", "#0000ff", "#ffb6c1", "#ff0000", "#888888"]}, "legend": {"title": null, "symbolType": "M-0.8,-1L0.8,-1L0.8,1L-0.8,1Z", "labelExpr": "': ' + datum.label", "encode": {"symbols": {"update": {"fillOpacity": {"value": 0.12}, "strokeOpacity": {"value": 1}, "opacity": {"value": 1}}}, "legend": {"update": {"strokeWidth": {"value": 2}}}}}},
      "fill": {"field": "g", "type": "nominal", "scale": {"domain": ["WT-ND", "WT-WD", "KO-ND", "KO-WD", "MixQC"], "range": ["#7ec8e3", "#0000ff", "#ffb6c1", "#ff0000", "#888888"]}, "legend": {"title": null, "symbolType": "M-0.8,-1L0.8,-1L0.8,1L-0.8,1Z", "labelExpr": "': ' + datum.label", "encode": {"symbols": {"update": {"fillOpacity": {"value": 0.12}, "strokeOpacity": {"value": 1}, "opacity": {"value": 1}}}, "legend": {"update": {"strokeWidth": {"value": 2}}}}}}
     }},
    {"data": {"name": "pts"}, "transform": [{"filter": "datum.p == 'LI' && datum.g != 'MixQC'"}],
     "mark": {"type": "point", "shape": "circle", "size": 64, "strokeWidth": 1.3, "fillOpacity": 0.2, "opacity": 1},
     "encoding": {
      "x": {"field": "x", "type": "quantitative", "scale": {"domain": [-35, 15], "nice": false, "zero": false}, "axis": {"values": [-35, 0, 15], "title": "PC1 (17.4%)"}},
      "y": {"field": "y", "type": "quantitative", "scale": {"domain": [-21, 19], "nice": false, "zero": false}, "axis": {"values": [-21, 0, 19], "title": "PC2 (16.3%)"}},
      "stroke": {"field": "g", "type": "nominal", "scale": {"domain": ["WT-ND", "WT-WD", "KO-ND", "KO-WD", "MixQC"], "range": ["#7ec8e3", "#0000ff", "#ffb6c1", "#ff0000", "#888888"]}, "legend": {"title": null, "symbolType": "M-0.8,-1L0.8,-1L0.8,1L-0.8,1Z", "labelExpr": "': ' + datum.label", "encode": {"symbols": {"update": {"fillOpacity": {"value": 0.12}, "strokeOpacity": {"value": 1}, "opacity": {"value": 1}}}, "legend": {"update": {"strokeWidth": {"value": 2}}}}}},
      "fill": {"field": "g", "type": "nominal", "scale": {"domain": ["WT-ND", "WT-WD", "KO-ND", "KO-WD", "MixQC"], "range": ["#7ec8e3", "#0000ff", "#ffb6c1", "#ff0000", "#888888"]}, "legend": {"title": null, "symbolType": "M-0.8,-1L0.8,-1L0.8,1L-0.8,1Z", "labelExpr": "': ' + datum.label", "encode": {"symbols": {"update": {"fillOpacity": {"value": 0.12}, "strokeOpacity": {"value": 1}, "opacity": {"value": 1}}}, "legend": {"update": {"strokeWidth": {"value": 2}}}}}}
     }},
    {"data": {"name": "pts"}, "transform": [{"filter": "datum.p == 'LI' && datum.g == 'MixQC'"}],
     "mark": {"type": "point", "shape": "square", "size": 90, "strokeWidth": 1, "fillOpacity": 0.4, "opacity": 1},
     "encoding": {
      "x": {"field": "x", "type": "quantitative", "scale": {"domain": [-35, 15], "nice": false, "zero": false}, "axis": {"values": [-35, 0, 15], "title": "PC1 (17.4%)"}},
      "y": {"field": "y", "type": "quantitative", "scale": {"domain": [-21, 19], "nice": false, "zero": false}, "axis": {"values": [-21, 0, 19], "title": "PC2 (16.3%)"}},
      "stroke": {"field": "g", "type": "nominal", "scale": {"domain": ["WT-ND", "WT-WD", "KO-ND", "KO-WD", "MixQC"], "range": ["#7ec8e3", "#0000ff", "#ffb6c1", "#ff0000", "#888888"]}, "legend": {"title": null, "symbolType": "M-0.8,-1L0.8,-1L0.8,1L-0.8,1Z", "labelExpr": "': ' + datum.label", "encode": {"symbols": {"update": {"fillOpacity": {"value": 0.12}, "strokeOpacity": {"value": 1}, "opacity": {"value": 1}}}, "legend": {"update": {"strokeWidth": {"value": 2}}}}}},
      "fill": {"field": "g", "type": "nominal", "scale": {"domain": ["WT-ND", "WT-WD", "KO-ND", "KO-WD", "MixQC"], "range": ["#7ec8e3", "#0000ff", "#ffb6c1", "#ff0000", "#888888"]}, "legend": {"title": null, "symbolType": "M-0.8,-1L0.8,-1L0.8,1L-0.8,1Z", "labelExpr": "': ' + datum.label", "encode": {"symbols": {"update": {"fillOpacity": {"value": 0.12}, "strokeOpacity": {"value": 1}, "opacity": {"value": 1}}}, "legend": {"update": {"strokeWidth": {"value": 2}}}}}}
     }},
    {"data": {"name": "pts"}, "transform": [{"filter": "datum.p == 'LI'"}],
     "mark": {"type": "text", "fontSize": 6.5, "font": "Liberation Sans", "color": "#222222", "baseline": "middle", "align": "center"},
     "encoding": {
      "x": {"field": "x", "type": "quantitative", "scale": {"domain": [-35, 15], "nice": false, "zero": false}, "axis": {"values": [-35, 0, 15], "title": "PC1 (17.4%)"}},
      "y": {"field": "y", "type": "quantitative", "scale": {"domain": [-21, 19], "nice": false, "zero": false}, "axis": {"values": [-21, 0, 19], "title": "PC2 (16.3%)"}},
      "text": {"field": "l", "type": "nominal"}
     }}
   ]
  }
 ],
 "config": {
  "view": {"stroke": null},
  "font": "Liberation Sans",
  "title": {"font": "Liberation Sans", "fontSize": 26, "fontWeight": "normal", "color": "#000000", "frame": "group", "anchor": "middle", "baseline": "alphabetic"},
  "axis": {"grid": false, "domainColor": "#555555", "tickColor": "#555555", "tickSize": 4, "labelFont": "Liberation Sans", "labelFontSize": 9.5, "labelColor": "#111111", "labelPadding": 2, "titleFont": "Liberation Sans", "titleFontSize": 9.5, "titleFontWeight": "normal", "titleColor": "#333333", "labelFlush": false, "labelOverlap": false},
  "axisX": {"titlePadding": 17},
  "axisY": {"titlePadding": 7},
  "legend": {"orient": "none", "legendX": 37, "legendY": -179, "direction": "horizontal", "labelFont": "Liberation Sans", "labelFontSize": 22, "labelColor": "#000000", "symbolSize": 289, "symbolStrokeWidth": 2, "strokeColor": "#1f3864", "padding": 16, "columnPadding": 25, "labelOffset": 4}
 }
}
